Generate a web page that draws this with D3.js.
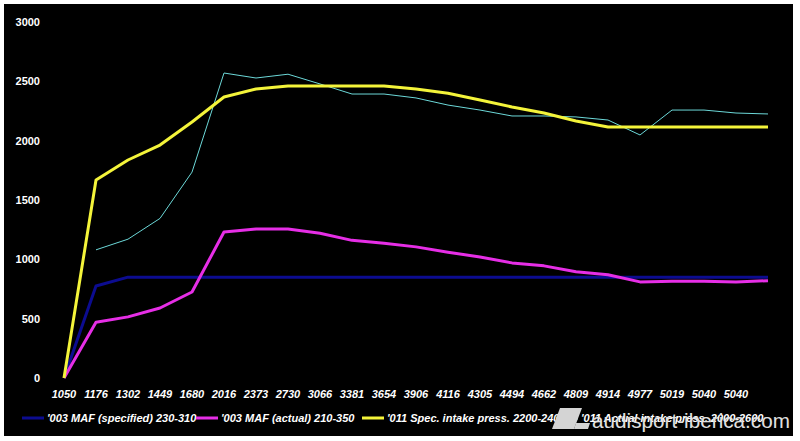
<!DOCTYPE html>
<html>
<head>
<meta charset="utf-8">
<script src="https://cdn.jsdelivr.net/npm/d3@7"></script>
<style>
  body { margin: 0; background: #fff; }
  svg text { font-family: "Liberation Sans", Arial, sans-serif; font-weight: bold; }
</style>
</head>
<body>
<div id="chart"></div>
<script>
// rpm categories (last point has no label shown)
const rpm = ["1050", "1176", "1302", "1449", "1680", "2016", "2373", "2730", "3066", "3381", "3654",
  "3906", "4116", "4305", "4494", "4662", "4809", "4914", "4977", "5019", "5040", "5040", ""];

const mafSpecified = [0, 775, 850, 850, 850, 850, 850, 850, 850, 850, 850, 850,
  850, 850, 850, 850, 850, 850, 850, 850, 850, 850, 850];
const mafActual = [0, 470, 515, 590, 725, 1230, 1255, 1255, 1220, 1160, 1135, 1105,
  1060, 1020, 970, 945, 895, 870, 810, 815, 815, 810, 820];
const specIntake = [0, 1668, 1837, 1963, 2157, 2368, 2435, 2460, 2460, 2460, 2460, 2435,
  2400, 2343, 2284, 2233, 2166, 2115, 2115, 2115, 2115, 2115, 2115];
const actualIntake = [null, 1080, 1170, 1345, 1735, 2570, 2528, 2560, 2478, 2393, 2393, 2360,
  2300, 2258, 2208, 2208, 2200, 2174, 2048, 2258, 2258, 2233, 2225];

const yTicks = [0, 500, 1000, 1500, 2000, 2500, 3000];

const seriesNames = ["'003 MAF (specified) 230-310", "'003 MAF (actual) 210-350",
  "'011 Spec. intake press. 2200-2400", "'011 Actual intake press. 2000-2600"];

const width = 800, height = 441;

const svg = d3.select("#chart").append("svg")
    .attr("width", width)
    .attr("height", height);

// black plate with thin white margin
svg.append("rect")
    .attr("x", 4).attr("y", 4)
    .attr("width", 789).attr("height", 432)
    .attr("fill", "#000");

const x = d3.scalePoint()
    .domain(d3.range(rpm.length))
    .range([64, 768]);

const y = d3.scaleLinear()
    .domain([0, 3000])
    .range([378, 22]);

// y labels
svg.append("g")
    .selectAll("text")
    .data(yTicks)
    .enter()
    .append("text")
    .attr("x", 40)
    .attr("y", (d) => y(d) + 4)
    .attr("text-anchor", "end")
    .attr("fill", "#fff")
    .attr("font-size", 11)
    .text((d) => d);

// x labels
svg.append("g")
    .selectAll("text")
    .data(rpm)
    .enter()
    .append("text")
    .attr("x", (d, i) => x(i))
    .attr("y", 398)
    .attr("text-anchor", "middle")
    .attr("fill", "#fff")
    .attr("font-size", 11)
    .attr("font-style", "italic")
    .text((d) => d);

const series = [
  {values: mafSpecified, color: "#0c0c90", w: 3},
  {values: mafActual, color: "#e62ee6", w: 3},
  {values: specIntake, color: "#f4f43a", w: 3},
  {values: actualIntake, color: "#6cd8d8", w: 1}
];

const line = d3.line()
    .defined((d) => d != null)
    .x((d, i) => x(i))
    .y((d) => y(d));

// draw in this order so yellow sits on top of cyan like the original
[0, 1, 3, 2].forEach(function(k) {
  svg.append("path")
      .datum(series[k].values)
      .attr("fill", "none")
      .attr("stroke", series[k].color)
      .attr("stroke-width", series[k].w)
      .attr("stroke-linejoin", "round")
      .attr("d", line);
});

// legend
const legendX = [22, 196, 362, 556];
const legend = svg.append("g").selectAll("g")
    .data(seriesNames)
    .enter()
    .append("g")
    .attr("transform", (d, i) => "translate(" + legendX[i] + ",422)");

legend.append("line")
    .attr("x1", 0).attr("x2", 22)
    .attr("y1", -4).attr("y2", -4)
    .attr("stroke", (d, i) => series[i].color)
    .attr("stroke-width", 3);

legend.append("text")
    .attr("x", 25)
    .attr("y", 0)
    .attr("fill", "#fff")
    .attr("font-size", 11)
    .attr("font-style", "italic")
    .text((d) => d);

// watermark over the last legend entry
const wm = svg.append("g");
wm.append("path")
    .attr("d", "M552,429 L560,408 L582,408 L574,429 Z")
    .attr("fill", "#d4d4d4");
wm.append("path")
    .attr("d", "M574,429 L576,423 L590,423 L588,429 Z")
    .attr("fill", "#d4d4d4");
wm.append("text")
    .attr("x", 592)
    .attr("y", 428)
    .attr("fill", "#e0e0e0")
    .attr("font-size", 20)
    .style("font-weight", "normal")
    .attr("textLength", 198)
    .attr("lengthAdjust", "spacingAndGlyphs")
    .text("audisport-iberica.com");
</script>
</body>
</html>
